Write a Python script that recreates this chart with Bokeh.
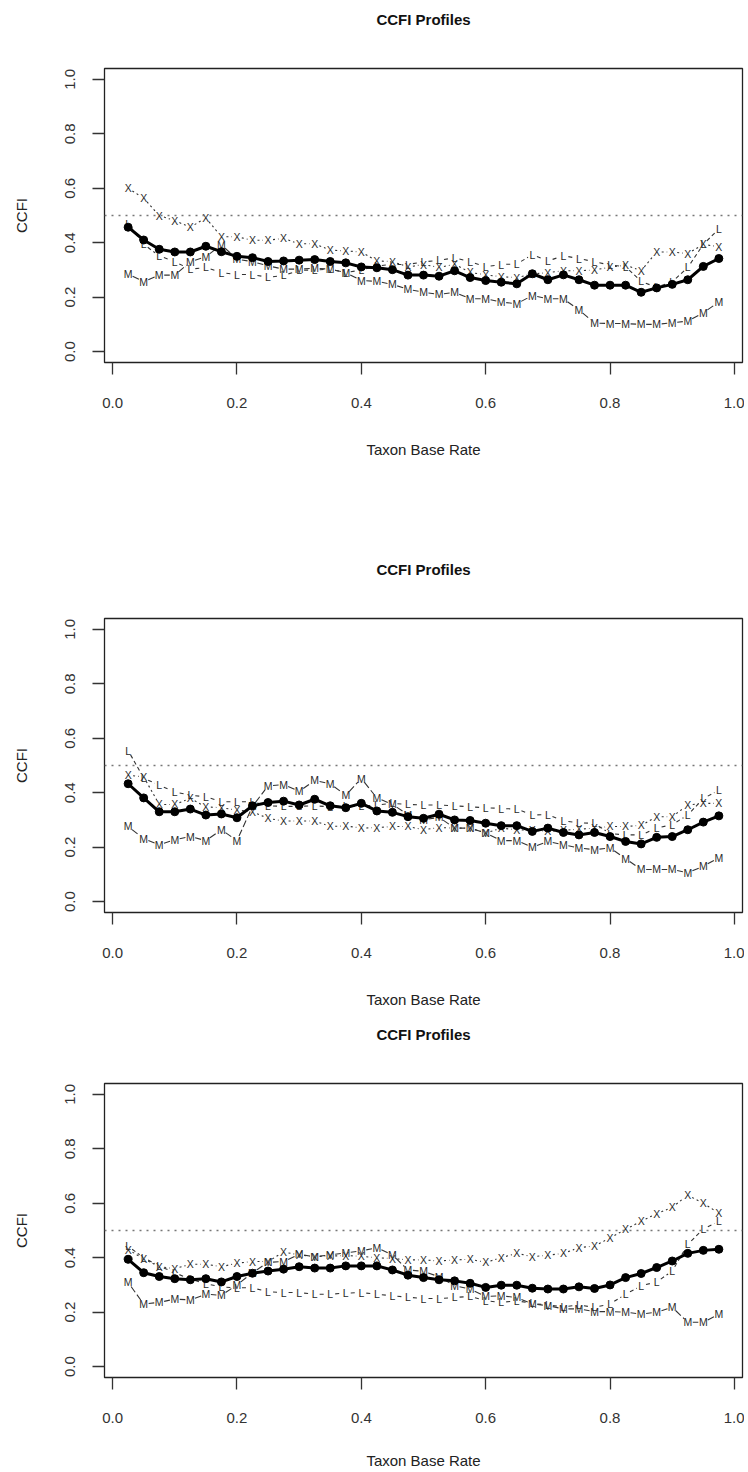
import math
from bokeh.plotting import figure
from bokeh.models import (ColumnDataSource, Range1d, FixedTicker, PrintfTickFormatter, Span,
                          LinearAxis)
from bokeh.layouts import column
from bokeh.embed import file_html
from bokeh.resources import INLINE
from bokeh.core.properties import value

# ---------------- data ----------------
base_rate = [0.025, 0.05, 0.075, 0.1, 0.125, 0.15, 0.175, 0.2, 0.225, 0.25,
             0.275, 0.3, 0.325, 0.35, 0.375, 0.4, 0.425, 0.45, 0.475, 0.5,
             0.525, 0.55, 0.575, 0.6, 0.625, 0.65, 0.675, 0.7, 0.725, 0.75,
             0.775, 0.8, 0.825, 0.85, 0.875, 0.9, 0.925, 0.95, 0.975]
tick_values = [0.0, 0.2, 0.4, 0.6, 0.8, 1.0]
reference_level = 0.5
title_text = "CCFI Profiles"
x_label = "Taxon Base Rate"
y_label = "CCFI"

# Panel 1
p1_mean = [0.457, 0.410, 0.376, 0.366, 0.366, 0.387, 0.367, 0.350, 0.345, 0.331,
           0.333, 0.336, 0.338, 0.331, 0.326, 0.311, 0.308, 0.301, 0.281, 0.281,
           0.277, 0.297, 0.272, 0.261, 0.255, 0.249, 0.286, 0.264, 0.282, 0.264,
           0.244, 0.244, 0.244, 0.218, 0.234, 0.247, 0.264, 0.313, 0.342]
p1_X = [0.600, 0.564, 0.500, 0.481, 0.457, 0.491, 0.422, 0.422, 0.409, 0.409,
        0.416, 0.396, 0.396, 0.373, 0.370, 0.366, 0.333, 0.331, 0.311, 0.320,
        0.309, 0.321, 0.291, 0.282, 0.275, 0.272, 0.285, 0.290, 0.297, 0.297,
        0.300, 0.310, 0.318, 0.297, 0.366, 0.366, 0.360, 0.394, 0.385]
p1_L = [0.470, 0.394, 0.352, 0.330, 0.303, 0.309, 0.290, 0.283, 0.283, 0.273,
        0.280, 0.298, 0.300, 0.303, 0.290, 0.300, 0.315, 0.320, 0.320, 0.330,
        0.335, 0.345, 0.330, 0.312, 0.320, 0.322, 0.356, 0.333, 0.352, 0.342,
        0.330, 0.318, 0.312, 0.258, 0.236, 0.257, 0.309, 0.394, 0.451]
p1_M = [0.285, 0.257, 0.281, 0.281, 0.330, 0.349, 0.392, 0.340, 0.330, 0.315,
        0.303, 0.303, 0.306, 0.303, 0.290, 0.261, 0.258, 0.247, 0.229, 0.218,
        0.210, 0.218, 0.194, 0.194, 0.182, 0.176, 0.206, 0.194, 0.194, 0.153,
        0.105, 0.103, 0.103, 0.100, 0.100, 0.106, 0.112, 0.143, 0.182]

# Panel 2
p2_mean = [0.433, 0.381, 0.330, 0.330, 0.340, 0.318, 0.322, 0.308, 0.352, 0.364,
           0.369, 0.355, 0.376, 0.352, 0.345, 0.361, 0.333, 0.328, 0.312, 0.306,
           0.321, 0.300, 0.298, 0.288, 0.279, 0.279, 0.258, 0.270, 0.254, 0.245,
           0.254, 0.239, 0.221, 0.212, 0.236, 0.239, 0.264, 0.292, 0.315]
p2_X = [0.464, 0.458, 0.357, 0.357, 0.379, 0.348, 0.345, 0.336, 0.330, 0.306,
        0.296, 0.296, 0.296, 0.276, 0.278, 0.270, 0.272, 0.276, 0.276, 0.264,
        0.272, 0.270, 0.270, 0.252, 0.270, 0.264, 0.262, 0.258, 0.262, 0.266,
        0.270, 0.276, 0.276, 0.280, 0.312, 0.312, 0.355, 0.361, 0.361]
p2_L = [0.555, 0.454, 0.427, 0.403, 0.391, 0.385, 0.367, 0.367, 0.367, 0.352,
        0.350, 0.350, 0.352, 0.348, 0.352, 0.350, 0.355, 0.361, 0.357, 0.355,
        0.355, 0.352, 0.348, 0.345, 0.342, 0.340, 0.318, 0.320, 0.296, 0.290,
        0.287, 0.250, 0.245, 0.245, 0.270, 0.283, 0.318, 0.379, 0.409]
p2_M = [0.276, 0.231, 0.209, 0.227, 0.239, 0.224, 0.264, 0.224, 0.350, 0.425,
        0.430, 0.405, 0.445, 0.433, 0.391, 0.452, 0.381, 0.357, 0.320, 0.300,
        0.310, 0.270, 0.270, 0.252, 0.224, 0.224, 0.200, 0.221, 0.209, 0.197,
        0.191, 0.197, 0.158, 0.118, 0.118, 0.118, 0.106, 0.130, 0.161]

# Panel 3
p3_mean = [0.394, 0.345, 0.331, 0.323, 0.319, 0.323, 0.311, 0.331, 0.343, 0.351,
           0.358, 0.367, 0.362, 0.362, 0.370, 0.370, 0.370, 0.355, 0.336, 0.327,
           0.319, 0.315, 0.306, 0.291, 0.299, 0.299, 0.288, 0.285, 0.285, 0.293,
           0.287, 0.300, 0.327, 0.342, 0.364, 0.388, 0.416, 0.427, 0.431]
p3_X = [0.430, 0.396, 0.367, 0.360, 0.376, 0.376, 0.367, 0.380, 0.386, 0.386,
        0.421, 0.410, 0.404, 0.406, 0.408, 0.405, 0.400, 0.397, 0.392, 0.392,
        0.388, 0.392, 0.394, 0.383, 0.400, 0.416, 0.404, 0.409, 0.416, 0.437,
        0.443, 0.473, 0.504, 0.534, 0.562, 0.585, 0.630, 0.600, 0.564]
p3_L = [0.442, 0.400, 0.370, 0.345, 0.321, 0.305, 0.292, 0.290, 0.289, 0.275,
        0.272, 0.272, 0.266, 0.266, 0.270, 0.272, 0.266, 0.260, 0.255, 0.250,
        0.250, 0.254, 0.258, 0.242, 0.236, 0.242, 0.232, 0.226, 0.220, 0.226,
        0.218, 0.230, 0.266, 0.297, 0.311, 0.351, 0.449, 0.506, 0.534]
p3_M = [0.309, 0.230, 0.236, 0.248, 0.245, 0.266, 0.262, 0.300, 0.345, 0.383,
        0.386, 0.412, 0.404, 0.410, 0.418, 0.425, 0.437, 0.410, 0.355, 0.350,
        0.330, 0.297, 0.285, 0.258, 0.260, 0.254, 0.230, 0.224, 0.212, 0.212,
        0.202, 0.202, 0.200, 0.193, 0.200, 0.218, 0.163, 0.163, 0.193]

# ---------------- styling ----------------
FONT = "Liberation Sans"
FIG_W = 744
BORDER_L = 104
BORDER_R = 2
FRAME_H = 294
span_x = base_rate[-1] - base_rate[0]
X_LO = base_rate[0] - 0.04 * span_x
X_HI = base_rate[-1] + 0.04 * span_x
Y_LO, Y_HI = -0.04, 1.04
SX = (FIG_W - BORDER_L - BORDER_R) / (X_HI - X_LO)
SY = FRAME_H / (Y_HI - Y_LO)
GAP = 5.0


def gapped(xs, ys):
    x0, y0, x1, y1 = [], [], [], []
    for a, b, c, d in zip(xs[:-1], ys[:-1], xs[1:], ys[1:]):
        dx = (c - a) * SX
        dy = (d - b) * SY
        L = math.hypot(dx, dy)
        if L <= 2 * GAP + 0.5:
            continue
        f = GAP / L
        x0.append(a + (c - a) * f)
        y0.append(b + (d - b) * f)
        x1.append(c - (c - a) * f)
        y1.append(d - (d - b) * f)
    return dict(x0=x0, y0=y0, x1=x1, y1=y1)


def make_panel(height, top, mean, sx_, sl_, sm_, label_standoff):
    bottom = height - top - FRAME_H
    p = figure(width=FIG_W, height=height, output_backend="svg", toolbar_location=None,
               x_range=Range1d(X_LO, X_HI), y_range=Range1d(Y_LO, Y_HI),
               min_border_left=BORDER_L, min_border_right=BORDER_R,
               min_border_top=top, min_border_bottom=bottom)
    p.grid.visible = False
    p.outline_line_color = "#222"
    p.outline_line_width = 1.3
    p.outline_line_alpha = 1.0
    p.background_fill_color = "white"
    p.border_fill_color = "white"
    for ax in (p.xaxis[0], p.yaxis[0]):
        ax.ticker = FixedTicker(ticks=tick_values)
        ax.formatter = PrintfTickFormatter(format="%.1f")
        ax.major_tick_out = 12
        ax.major_tick_in = 0
        ax.minor_tick_line_color = None
        ax.axis_line_color = None
        ax.major_tick_line_color = "#333"
        ax.major_tick_line_width = 1.3
        ax.major_label_text_font = FONT
        ax.major_label_text_font_size = "15px"
        ax.major_label_text_color = "#333"
        ax.axis_label_text_font = FONT
        ax.axis_label_text_font_size = "15px"
        ax.axis_label_text_font_style = "normal"
        ax.axis_label_text_color = "#222"
    p.xaxis.axis_label = x_label
    p.yaxis.axis_label = y_label
    p.yaxis.major_label_orientation = "vertical"
    p.xaxis.major_label_standoff = 23
    p.xaxis.axis_label_standoff = label_standoff
    p.yaxis.major_label_standoff = 17
    p.yaxis.axis_label_standoff = 33

    # main title: an empty axis above the plot region carrying the title as its label
    title_axis = LinearAxis(ticker=FixedTicker(ticks=[]), axis_label=title_text,
                            axis_line_color=None, major_tick_out=0, major_tick_in=0,
                            minor_tick_out=0, minor_tick_in=0,
                            major_tick_line_color=None, minor_tick_line_color=None,
                            major_label_standoff=0, axis_label_standoff=41,
                            axis_label_text_font=FONT, axis_label_text_font_size="15px",
                            axis_label_text_font_style="bold", axis_label_text_color="#111")
    p.add_layout(title_axis, "above")

    p.add_layout(Span(location=reference_level, dimension="width", line_color="#777",
                      line_width=1.6, line_dash="2 5"))

    for ys, ch, dash in ((sx_, "X", "2 3"), (sl_, "L", "4 3"), (sm_, "M", "7 3")):
        seg = ColumnDataSource(gapped(base_rate, ys))
        p.segment(x0="x0", y0="y0", x1="x1", y1="y1", source=seg,
                  line_color="#333", line_width=1.1, line_dash=dash)
        src = ColumnDataSource(dict(x=base_rate, y=ys, t=[ch] * len(ys)))
        p.text(x="x", y="y", text="t", source=src, text_font=value(FONT),
               text_font_size="10.5px", text_color="#2a2a2a", text_align="center",
               text_baseline="middle")

    msrc = ColumnDataSource(dict(x=base_rate, y=mean))
    p.line(x="x", y="y", source=msrc, line_color="black", line_width=3)
    p.scatter(x="x", y="y", source=msrc, size=8, marker="circle",
              fill_color="black", line_color="black")
    return p


fig1 = make_panel(540, 68, p1_mean, p1_X, p1_L, p1_M, 30)
fig2 = make_panel(470, 78, p2_mean, p2_X, p2_L, p2_M, 30)
fig3 = make_panel(462, 73, p3_mean, p3_X, p3_L, p3_M, 26)

layout = column(fig1, fig2, fig3, spacing=0)
open("out.html", "w").write(file_html(layout, INLINE))
